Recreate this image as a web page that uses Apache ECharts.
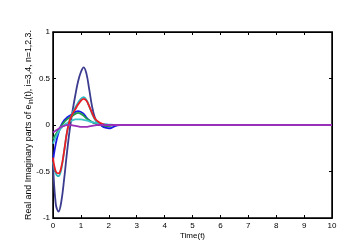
<!DOCTYPE html>
<html><head><meta charset="utf-8">
<script src="https://cdn.jsdelivr.net/npm/echarts@6/dist/echarts.min.js"></script>
<style>html,body{margin:0;padding:0;background:#fff}#c{width:357px;height:252px}</style>
</head><body><div id="c"></div>
<script>
const time = [0,0.1,0.2,0.3,0.4,0.5,0.6,0.7,0.8,0.9,1.0,1.1,1.2,1.3,1.4,1.5,1.6,1.7,1.8,1.9,2.0,2.1,2.2,2.3,2.4,2.5,2.6,2.7,2.8,2.9,3.0,4,5,6,7,8,9,10];
const navy    = [-0.40,-0.85,-0.93,-0.82,-0.58,-0.30,-0.05,0.15,0.32,0.47,0.57,0.62,0.55,0.38,0.20,0.08,0.02,0.00,-0.01,-0.015,-0.01,-0.005,0,0,0,0,0,0,0,0,0,0,0,0,0,0,0,0];
const blue    = [-0.38,-0.20,-0.08,0.00,0.05,0.08,0.10,0.12,0.14,0.15,0.14,0.12,0.08,0.05,0.03,0.02,0.01,0.00,-0.02,-0.03,-0.035,-0.03,-0.015,-0.005,0,0,0,0,0,0,0,0,0,0,0,0,0,0];
const green   = [-0.15,-0.10,-0.05,-0.01,0.03,0.06,0.08,0.10,0.12,0.13,0.12,0.10,0.07,0.05,0.03,0.02,0.01,0.00,-0.005,-0.01,-0.01,-0.005,0,0,0,0,0,0,0,0,0,0,0,0,0,0,0,0];
const cyanB   = [-0.20,-0.13,-0.07,-0.03,0.00,0.02,0.04,0.05,0.06,0.06,0.06,0.055,0.05,0.04,0.03,0.025,0.02,0.015,0.01,0.008,0.005,0.003,0.002,0.001,0,0,0,0,0,0,0,0,0,0,0,0,0,0];
const cyanA   = [-0.40,-0.52,-0.55,-0.47,-0.28,-0.08,0.05,0.13,0.19,0.24,0.28,0.30,0.27,0.20,0.12,0.06,0.03,0.01,0.00,0,0,0,0,0,0,0,0,0,0,0,0,0,0,0,0,0,0,0];
const red     = [-0.35,-0.50,-0.52,-0.45,-0.28,-0.08,0.05,0.12,0.17,0.22,0.26,0.28,0.26,0.20,0.13,0.07,0.04,0.02,0.01,0.00,0,0,0,0,0,0,0,0,0,0,0,0,0,0,0,0,0,0];
const magenta = [-0.08,-0.06,-0.04,-0.02,-0.01,0.00,0.00,-0.005,-0.01,-0.015,-0.02,-0.02,-0.02,-0.015,-0.01,-0.005,0,0,0,0,0,0,0,0,0,0,0,0,0,0,0,0,0,0,0,0,0,0];
const xTicks = [0,1,2,3,4,5,6,7,8,9,10];
const yTicks = [-1,-0.5,0,0.5,1];

const seriesDefs = [
  [navy,'#3b3b8f'],[blue,'#1a1ae6'],[green,'#1f9a4a'],[cyanB,'#3cc4c8'],
  [cyanA,'#2ab8c0'],[red,'#ec1c24'],[magenta,'#9b30b8']
];
const font = 'Liberation Sans, Arial, sans-serif';
const chart = echarts.init(document.getElementById('c'));
const baseAxis = () => ({
  axisLine:{show:true,onZero:false,lineStyle:{color:'#000',width:1}},
  axisTick:{show:true,inside:true,length:3,lineStyle:{color:'#000'}},
  splitLine:{show:false}
});
chart.setOption({
  animation:false,
  backgroundColor:'#fff',
  grid:{left:53,right:25,top:32,bottom:34,show:true,borderColor:'#000',borderWidth:1.5},
  xAxis:[
    Object.assign(baseAxis(),{type:'value',min:0,max:10,interval:1,position:'bottom',
      axisLabel:{color:'#000',fontSize:8,fontFamily:font,margin:4},
      name:'Time(t)',nameLocation:'middle',nameGap:14,nameMoveOverlap:false,
      nameTextStyle:{color:'#000',fontSize:8,fontFamily:font}}),
    Object.assign(baseAxis(),{type:'value',min:0,max:10,interval:1,position:'top',axisLabel:{show:false}})
  ],
  yAxis:[
    Object.assign(baseAxis(),{type:'value',min:-1,max:1,interval:0.5,position:'left',
      axisLabel:{color:'#000',fontSize:8,fontFamily:font,margin:3,formatter:v=>String(v)},
      name:'Real and Imaginary parts of e{sub|in}(t), i=3,4, n=1,2,3.',nameLocation:'middle',nameRotate:90,nameGap:18,nameMoveOverlap:false,
      nameTextStyle:{color:'#000',fontSize:8.8,fontFamily:font,rich:{sub:{fontSize:6.5,verticalAlign:'bottom',padding:[5,0,0,0],fontFamily:font}}}}),
    Object.assign(baseAxis(),{type:'value',min:-1,max:1,interval:0.5,position:'right',axisLabel:{show:false}})
  ],
  series: seriesDefs.map(([arr,col])=>({
    type:'line',xAxisIndex:0,yAxisIndex:0,smooth:0.4,symbol:'none',
    data:time.map((t,i)=>[t,arr[i]]),
    lineStyle:{color:col,width:1.8}
  }))
});
</script></body></html>
